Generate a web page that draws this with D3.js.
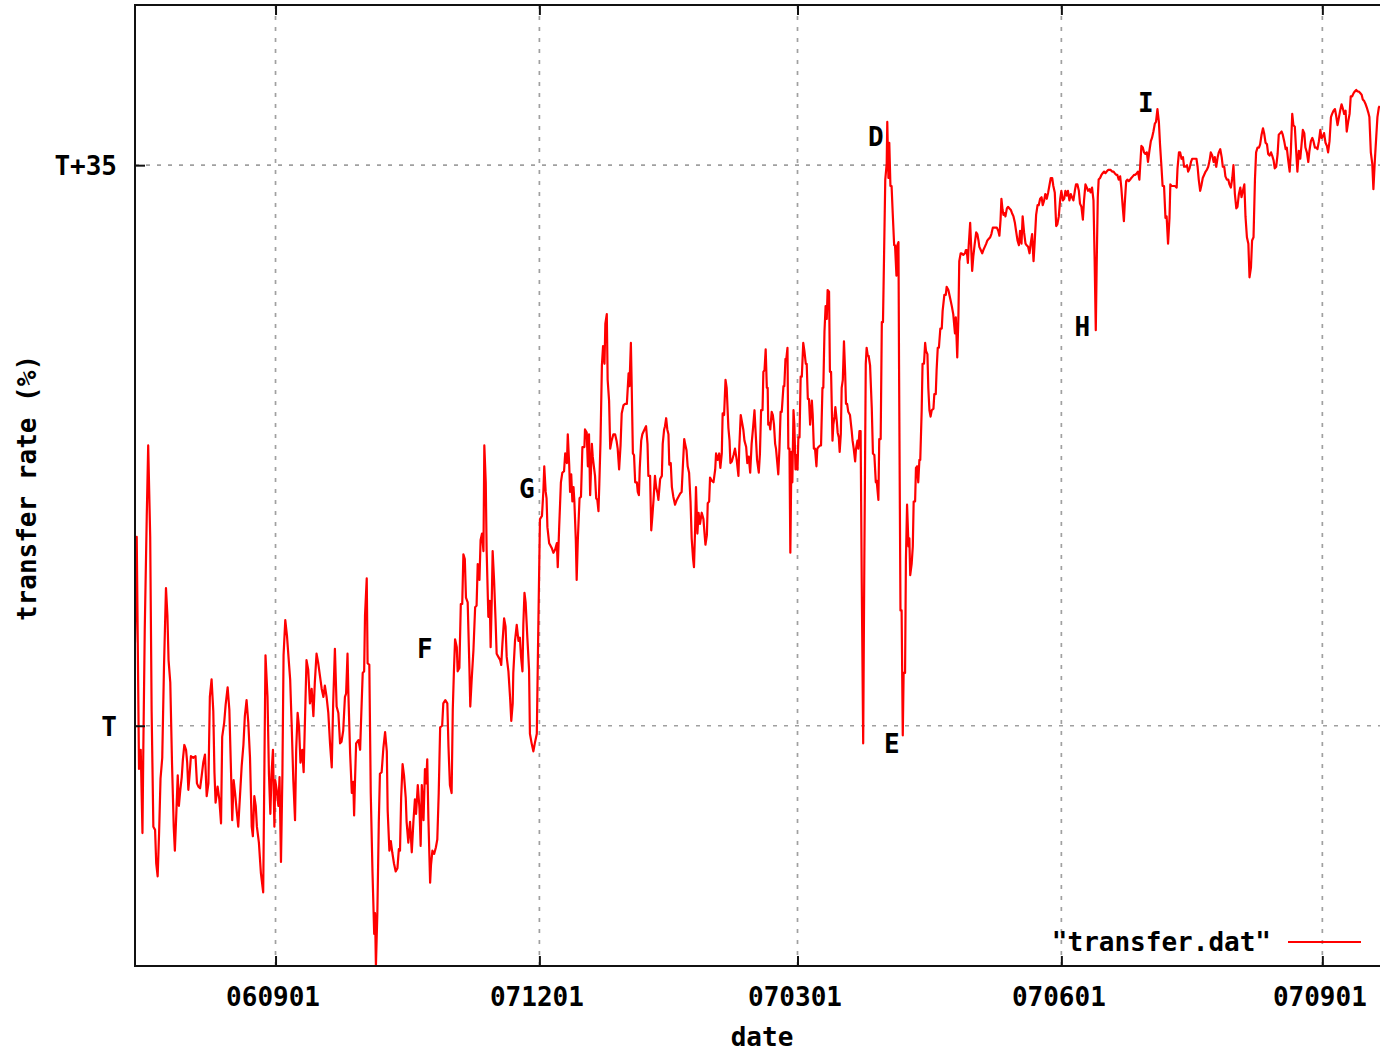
<!DOCTYPE html>
<html><head><meta charset="utf-8">
<script src="https://cdn.jsdelivr.net/npm/d3@7"></script>
<style>
html,body{margin:0;padding:0;background:#fff;}
svg{display:block;background:#fff;}
text{font-family:"DejaVu Sans Mono","Liberation Mono",monospace;font-weight:bold;font-size:26px;fill:#000;}
</style></head><body>
<svg id="chart" width="1380" height="1052"></svg>
<script>
// x: record number in transfer.dat, y: transfer rate relative to T (in %)
const sampleNo = [
0,0.6,1.4,2.0,2.6,2.9,3.4,4.1,4.6,5.3,5.8,6.4,7.0,7.4,7.9,8.4,8.9,9.5,10.1,10.8,
11.3,11.7,12.3,12.9,13.5,13.9,14.4,14.9,15.3,15.8,16.3,16.7,17.2,17.8,18.2,18.6,19.1,19.5,20.3,21.1,
21.6,22.1,22.7,23.2,23.8,24.4,25.0,25.6,26.1,26.7,27.3,27.7,28.1,28.8,29.4,30.0,30.4,31.1,31.6,32.3,
32.9,33.5,33.9,34.4,34.9,35.4,36.0,36.6,37.2,37.8,38.3,38.9,39.5,40.1,40.7,41.1,41.6,42.1,42.5,43.2,
43.9,44.7,45.1,45.5,46.2,46.7,47.2,47.6,48.1,48.6,48.9,49.4,50.0,50.4,50.9,51.4,51.8,52.4,53.0,53.6,
54.1,54.6,55.2,55.8,56.2,56.7,57.2,57.7,58.3,58.8,59.3,59.8,60.4,61.0,61.6,62.2,62.7,63.3,63.9,64.5,
65.1,65.7,66.2,66.8,67.4,68.0,68.6,69.1,69.7,70.3,70.9,71.5,72.0,72.6,73.2,
73.6,74.1,74.4,75.0,75.6,76.1,76.4,76.7,77.1,77.9,78.5,78.8,79.4,79.9,80.2,80.8,81.1,81.7,82.2,82.8,
83.4,83.7,84.0,84.5,85.0,85.4,86.0,86.6,87.2,87.8,88.1,88.7,89.2,89.7,90.3,90.9,91.5,92.0,92.4,92.8,
93.3,93.8,94.4,94.7,95.3,95.9,96.5,97.1,97.6,98.0,98.6,99.2,99.6,100.0,100.6,101.1,101.5,101.9,102.3,102.9,
103.2,103.7,104.3,104.9,105.4,105.9,106.4,107.1,107.5,108.2,108.9,109.3,109.8,110.4,110.8,111.2,111.6,112.2,112.5,113.1,
113.6,114.1,114.5,115.0,115.4,116.0,116.6,116.9,117.4,118.0,118.6,119.1,119.5,120.1,120.5,121.0,121.5,121.8,122.3,122.6,
123.2,123.7,124.0,124.4,124.7,125.2,125.7,126.1,126.7,127.3,127.7,128.1,128.7,129.2,129.6,130.2,130.8,131.2,131.7,131.9,
132.5,133.1,133.7,134.2,134.6,135.1,135.4,135.8,136.2,136.8,137.4,137.7,138.3,138.9,139.4,140.1,140.6,141.2,141.9,142.4,
142.7,143.2,143.5,143.8,144.4,
144.7,145.3,145.9,146.5,147.1,147.4,147.9,148.5,149.0,149.6,150.0,150.6,150.9,151.4,151.7,152.1,152.5,152.9,153.2,153.7,
154.0,154.4,155.0,155.5,156.0,156.7,156.9,157.5,157.9,158.3,158.7,159.3,159.6,160.0,160.4,160.8,161.2,161.6,161.9,162.3,
162.8,163.2,163.7,164.0,164.5,164.8,165.3,165.7,166.2,166.8,167.4,167.9,168.3,168.8,169.3,169.7,170.3,170.9,171.5,172.1,
172.4,172.9,173.2,173.6,174.0,174.4,175.0,175.3,175.7,176.0,176.5,176.9,177.4,177.9,178.2,178.7,179.0,179.6,180.0,180.4,
180.8,181.3,181.7,182.2,182.5,183.1,183.7,184.0,184.5,184.8,185.2,185.6,186.0,186.3,186.8,187.2,187.7,188.3,188.9,189.5,
190.1,190.6,191.0,191.5,191.8,192.3,192.7,193.2,193.7,194.1,194.6,194.9,195.3,195.6,196.1,196.5,197.0,197.6,198.2,198.5,
198.9,199.4,199.7,200.2,200.5,201.1,201.7,202.3,202.6,203.2,203.7,204.1,204.6,204.9,205.4,205.9,206.3,206.9,207.3,207.6,
208.1,208.7,209.2,209.8,210.4,210.7,211.2,211.6,212.1,212.5,213.1,213.5,214.0,214.5,215.0,215.5,216.0,216.4,216.9,217.5,
217.9,218.3,218.8,219.1,219.5,219.9,220.3,220.6,220.8,221.2,221.5,222.0,222.4,222.8,223.2,223.5,223.9,224.3,224.7,225.1,
225.5,226.1,226.4,226.8,227.1,227.5,227.8,228.2,228.5,228.9,229.2,229.6,229.9,230.3,230.6,231.0,231.3,231.7,232.1,232.5,
233.0,233.4,233.9,234.2,234.6,235.0,235.4,236.0,236.3,236.7,237.1,237.6,237.9,238.3,238.9,239.2,239.7,240.0,240.4,240.8,
241.2,241.5,242.0,242.3,242.7,243.2,243.5,243.9,244.2,244.7,245.0,245.4,245.7,246.1,246.4,246.8,247.2,247.6,247.9,248.3,
248.7,249.3,249.9,250.2,250.6,251.1,251.4,251.9,252.2,252.6,253.0,253.4,253.9,254.3,254.8,255.1,255.5,255.8,256.3,256.9,
257.3,257.8,258.3,258.6,259.2,259.5,260.0,260.4,260.8,261.2,261.6,262.1,262.3,262.7,263.0,263.4,263.8,264.2,264.7,265.0,
265.5,265.8,266.2,266.4,266.9,267.3,267.7,268.0,268.5,268.8,269.2,269.7,270.0,270.3,270.8,271.2,271.5,272.0,272.3,272.7,
273.1,273.5,273.8,274.3,274.6,275.1,275.5,275.8,276.3,276.6,277.0,277.4,277.8,278.4,278.7,279.2,279.5,279.9,280.3,280.8,
281.3,281.6,282.2,282.7,283.0,283.6,284.2,284.8,285.3,285.9,286.2,286.7,287.1,287.4,287.9,288.2,288.8,289.4,
289.7,290.0,290.4,290.7,291.2,291.9,292.3,292.8,293.3,293.7,294.1,294.4,294.9,295.4,295.8,296.3,296.8,297.2,297.7,298.2,
298.6,299.1,299.6,300.0,300.5,301.0,301.4,301.8,302.1,302.5,302.8,303.2,303.5,304.0,304.4,304.9,305.4,305.8,306.3,306.8,
307.2,307.7,308.2,308.6,309.1,309.5,310.0,310.5,310.9,311.4,311.9,312.3,312.8,313.3,313.7,314.2,314.7,315.1,315.6,316.1,
316.5,317.0,317.4,317.9,318.4,318.8,319.3,319.8,320.2,320.7,321.2,321.6,322.1,322.6,323.0,323.5,324.0,324.4,324.9,325.3,
325.8,326.3,326.7,327.2,327.7,328.1,328.6,329.1,329.5,330.0,330.5,330.9,331.4,331.9,332.3,332.8,333.2,333.7,334.2,334.6,
335.0,335.3,335.7,336.0,336.5,337.0,337.4,337.9,338.4,338.8,339.3,339.8,340.2,340.7,341.2,341.6,342.1,342.5,343.0,343.5,
343.9,344.4,344.8,345.1,345.6,346.0,346.5,347.0,347.4,347.9,348.4,348.8,349.3,349.7,350.2,350.6,350.9,351.4,351.8,352.3,
352.8,353.2,353.7,354.2,354.6,355.1,355.6,356.0,356.5,357.0,357.4,357.9,358.3,358.8,359.3,359.7,360.2,360.7,
361.0,361.4,362.0,362.6,363.2,363.5,364.0,364.4,364.9,365.4,365.8,366.3,366.8,367.2,367.7,368.2,368.6,369.1,369.6,370.1,
370.5,370.9,371.4,371.9,372.3,372.8,373.3,373.7,374.2,374.7,375.1,375.6,376.1,376.5,377.0,377.5,377.9,378.4,378.9,379.3,
379.8,380.2,380.7,381.2,381.6,382.1,382.6,383.0,383.5,384.0,384.4,384.9,385.4,385.8,386.3,386.8,387.2,387.7,388.2,388.6,
389.1,389.5,390.0,390.5,390.9,391.4,391.9,392.3,392.8,393.3,393.7,394.2,394.7,395.1,395.6,396.1,396.5,397.0,397.4,397.9,
398.4,398.8,399.3,399.8,400.2,400.7,401.2,401.6,402.1,402.6,403.0,403.5,403.9,404.4,404.9,405.3,405.8,406.3,406.7,407.2,
407.7,408.1,408.6,409.1,409.5,410.0,410.5,410.9,411.4,411.9,412.3,412.8,413.3,413.7,414.2,414.6,415.1,415.6,416.0,416.5,
417.0,417.4,417.9,418.4,418.8,419.3,419.8,420.2,420.7,421.2,421.6,422.1,422.5,423.0,423.5,423.9,424.4,424.9,425.3,425.8,
426.3,426.7,427.2,427.7,428.1,428.6,429.1,429.5,430.0,430.4,430.9,431.4,431.8,432.3,432.8,433.2,433.7,434.0
];
const rate = [
5.2,11.8,-2.7,-1.5,-6.7,-1.5,6.0,13.1,17.5,11.8,0.9,-6.3,-6.5,-8.6,-9.4,-6.7,-3.3,-2.0,3.6,8.6,
6.9,4.1,2.7,-2.3,-6.3,-7.8,-5.5,-3.1,-5.0,-4.0,-3.2,-2.1,-1.2,-1.5,-2.3,-4.0,-2.9,-1.9,-2.0,-1.9,
-3.6,-3.8,-3.9,-3.2,-2.3,-1.8,-4.4,-3.6,1.8,2.9,0.9,-2.9,-4.8,-3.8,-4.6,-6.1,-0.7,0.2,1.3,2.4,
1.0,-3.0,-5.9,-3.4,-4.2,-5.2,-6.3,-4.4,-2.5,-1.2,0.6,1.6,0.2,-2.0,-6.3,-6.9,-4.4,-5.0,-6.3,-7.3,
-9.2,-10.4,-2.9,4.4,1.8,-3.0,-5.5,-3.0,-1.5,-6.3,-3.4,-4.0,-5.0,-3.2,-8.5,-3.0,4.4,6.6,5.6,4.1,
2.9,0.2,-3.4,-5.9,-1.5,0.8,-0.1,-2.3,-1.5,-2.9,0.6,4.1,3.5,1.4,2.3,0.6,2.7,4.5,3.9,3.1,
2.3,1.8,2.5,1.8,0.8,-1.1,-2.6,1.4,4.8,1.2,0.8,-1.1,-1.0,-0.3,1.8,
2.0,4.5,2.0,-1.7,-4.2,-3.5,-5.6,-3.5,-1.1,-0.9,-1.5,0.2,3.3,3.4,6.9,9.2,3.9,3.8,-4.2,-9.1,
-13.0,-11.7,-15.0,-11.7,-6.1,-3.0,-2.9,-1.4,-0.4,-1.6,-5.3,-7.8,-7.2,-7.9,-8.6,-9.1,-8.9,-7.7,-7.8,-4.5,
-2.4,-3.1,-4.5,-6.0,-7.3,-6.0,-7.9,-5.9,-4.6,-5.5,-3.7,-5.2,-7.5,-3.7,-5.9,-2.7,-3.6,-2.1,-5.8,-9.8,
-8.7,-7.8,-8.0,-7.6,-7.1,-4.2,-0.1,0.0,1.4,1.6,1.4,-1.3,-3.7,-4.2,1.0,3.4,5.4,4.9,3.4,3.6,
7.6,7.6,10.7,10.4,8.0,7.7,3.6,1.2,2.9,4.7,7.4,7.5,10.1,9.1,11.6,12.0,10.9,17.5,15.2,11.0,
6.8,7.8,4.9,7.9,10.9,9.1,6.7,4.5,4.3,4.1,3.8,5.1,6.7,6.2,4.3,3.4,1.7,0.3,1.4,3.3,
5.3,6.3,5.3,5.5,4.3,3.4,6.3,8.3,7.7,5.5,3.5,-0.5,-1.1,-1.6,-1.1,-0.5,5.9,12.9,13.1,14.7,
16.2,14.6,14.2,12.4,11.4,
11.3,11.1,10.8,11.0,11.4,9.9,12.4,15.2,15.8,15.9,17.0,16.4,18.2,16.3,14.6,15.7,14.0,14.9,14.0,11.6,
9.1,11.6,14.2,14.3,17.4,17.4,18.5,18.3,16.2,18.2,14.4,17.6,16.8,16.2,15.6,14.2,14.1,13.4,15.1,17.7,
22.5,23.7,22.6,25.1,25.7,21.6,20.3,17.3,17.8,18.2,18.2,17.8,17.3,16.0,17.5,19.5,20.0,20.1,20.1,22.0,
21.2,23.9,21.1,17.0,16.9,15.2,15.2,14.6,14.4,16.1,17.8,18.2,18.4,18.6,18.7,17.6,15.6,15.6,12.2,13.1,
14.1,15.6,14.9,14.5,14.1,15.4,15.6,17.6,18.5,18.7,19.2,18.5,18.2,16.3,16.4,14.9,14.3,13.8,14.1,14.3,
14.5,14.6,16.1,17.9,17.6,17.2,16.2,15.8,14.0,11.7,10.4,9.9,12.3,14.9,12.0,13.3,12.6,13.3,12.9,12.2,
11.3,11.9,13.9,14.0,15.5,15.3,15.2,16.0,17.0,16.6,17.0,16.1,17.0,19.5,19.4,21.6,21.1,18.6,17.8,16.4,
16.5,16.9,17.3,16.6,15.6,17.4,19.4,19.0,18.5,17.8,17.4,16.4,16.8,15.8,17.6,18.6,19.7,18.3,16.6,15.8,
17.0,19.7,19.7,22.1,22.2,23.5,21.1,21.1,18.8,18.9,18.5,19.6,19.4,18.8,17.6,17.3,16.5,15.7,17.3,19.6,
19.6,21.2,21.2,22.9,22.9,23.6,17.3,17.3,10.8,17.1,15.2,19.7,18.8,16.0,16.9,16.0,18.0,18.0,21.8,21.8,
23.9,23.4,22.6,22.6,20.4,20.4,18.8,20.3,19.4,17.3,17.3,16.2,17.3,17.4,17.5,17.5,21.1,21.1,24.6,26.2,
25.4,27.2,27.1,22.1,22.1,17.8,18.8,19.3,19.9,19.0,18.3,18.0,17.1,18.2,21.1,21.6,24.0,22.1,20.1,20.1,
19.6,19.4,18.4,17.8,17.3,16.5,17.3,17.8,17.3,18.4,18.4,8.9,-1.1,10.3,22.6,23.6,23.1,23.1,22.5,19.8,
17.0,16.9,15.2,15.3,14.1,17.9,17.9,25.2,25.2,29.6,34.1,35.1,37.7,34.2,36.4,33.7,33.7,32.0,30.0,30.0,
28.1,30.0,30.2,22.6,7.2,7.2,-0.6,3.3,3.3,10.4,13.8,11.2,11.7,9.4,10.1,11.2,14.0,14.0,16.1,16.2,
15.2,16.6,16.6,19.7,22.6,22.6,23.9,23.4,23.2,21.1,19.7,19.3,19.7,19.8,20.7,20.7,22.2,23.6,23.6,24.8,
24.8,25.9,26.9,26.9,27.4,27.2,26.7,26.2,25.7,24.5,25.5,23.0,25.5,29.0,29.5,29.5,29.4,29.5,
29.7,29.7,28.9,30.0,31.4,28.4,29.3,30.1,30.8,30.7,30.3,29.9,29.7,29.5,29.7,29.9,30.1,30.3,30.4,30.5,
30.7,31.1,31.1,31.1,31.1,30.9,30.6,31.6,32.9,32.2,31.9,32.0,31.8,32.3,32.4,32.3,32.2,32.0,31.8,31.4,
30.9,30.3,30.0,30.9,30.1,31.8,30.8,30.1,30.0,29.9,29.5,30.1,30.7,29.0,30.2,31.9,32.5,32.5,32.9,33.0,
32.5,32.8,33.2,32.9,33.3,33.7,34.2,34.2,33.7,33.3,31.2,31.3,31.8,32.9,33.4,32.8,32.9,33.4,33.1,33.4,
32.8,33.2,33.0,32.8,33.4,33.8,33.8,33.4,32.6,32.4,31.6,32.8,33.8,33.6,33.4,33.5,33.3,33.6,32.8,29.1,
24.7,28.6,33.0,34.1,34.2,34.4,34.5,34.6,34.5,34.6,34.7,34.7,34.7,34.6,34.6,34.5,34.4,34.4,34.1,34.3,
33.6,32.4,31.5,32.6,34.0,34.1,34.0,34.1,34.2,34.3,34.4,34.4,34.5,34.6,34.1,35.3,36.2,36.1,35.8,35.7,
35.8,35.2,35.9,36.5,36.7,37.1,37.6,37.7,38.5,37.7,36.3,34.9,33.7,33.7,31.7,31.8,30.1,31.7,
33.8,33.7,33.7,33.7,33.6,34.8,35.8,35.8,35.4,35.5,34.9,34.9,35.0,34.6,34.8,35.2,35.4,35.4,35.4,35.4,
34.9,34.1,33.4,33.8,34.2,34.4,34.6,34.7,34.9,35.3,35.8,35.6,35.2,35.5,34.9,35.5,35.8,36.0,35.5,34.9,
34.9,34.3,34.1,34.1,33.8,33.6,34.2,35.0,33.2,32.3,32.4,33.2,33.6,33.0,33.4,33.8,31.8,30.5,30.1,28.0,
28.6,30.3,30.5,34.1,35.8,36.1,36.1,36.3,36.9,37.3,37.0,36.4,36.3,35.7,35.6,35.8,35.6,35.3,34.8,34.9,
35.7,36.9,37.0,37.1,36.9,36.5,36.0,36.1,35.3,34.6,35.8,38.2,37.5,37.4,35.8,34.6,35.9,35.4,36.2,37.2,
37.0,36.1,35.8,35.2,35.9,36.5,36.7,36.5,36.1,36.1,36.0,36.5,37.2,36.7,36.8,37.0,36.4,36.2,35.8,36.5,
38.0,38.2,38.4,38.5,38.1,37.5,38.0,38.4,38.8,38.5,38.2,38.4,37.1,37.7,38.2,39.3,39.3,39.5,39.6,39.7,
39.6,39.6,39.5,39.4,39.1,39.0,38.8,38.6,38.3,38.0,35.8,35.1,33.5,35.3,36.8,38.0,38.6,38.7
];

const xDomain = [0, 434.1];
const yDomain = [-15, 45];
const xTickSamples = [49, 141, 231, 323, 414];
const xTickLabels = ["060901", "071201", "070301", "070601", "070901"];
const yTickValues = [0, 35];
const yTickLabels = ["T", "T+35"];
const noteNames = ["D", "E", "F", "G", "H", "I"];
const noteSample = [255.6, 261.2, 98.3, 133.9, 327.6, 349.7];
const noteRate = [36.8, -1.1, 4.8, 14.8, 24.9, 38.9];
const seriesName = "\"transfer.dat\"";
const xTitle = "date";
const yTitle = "transfer rate (%)";

const plotL = 135, plotT = 5, plotR = 1380, plotB = 966;
const x = d3.scaleLinear().domain(xDomain).range([plotL, plotR]);
const y = d3.scaleLinear().domain(yDomain).range([plotB, plotT]);
const svg = d3.select("#chart");

svg.append("defs").append("clipPath").attr("id", "clip")
  .append("rect").attr("x", plotL).attr("y", plotT).attr("width", plotR - plotL).attr("height", plotB - plotT);

// grid
const grid = svg.append("g").attr("stroke", "#a0a0a0").attr("stroke-width", 1.7).attr("stroke-dasharray", "4,7");
grid.selectAll("line.gx").data(xTickSamples).join("line").attr("class", "gx")
  .attr("x1", d => x(d)).attr("x2", d => x(d)).attr("y1", plotB).attr("y2", plotT);
grid.selectAll("line.gy").data(yTickValues).join("line").attr("class", "gy")
  .attr("y1", d => y(d)).attr("y2", d => y(d)).attr("x1", plotL).attr("x2", plotR);

// data line
const pts = sampleNo.map((s, i) => [s, rate[i]]);
const line = d3.line().x(d => x(d[0])).y(d => y(d[1]));
svg.append("path").datum(pts).attr("clip-path", "url(#clip)")
  .attr("fill", "none").attr("stroke", "#ff0000").attr("stroke-width", 2.2)
  .attr("stroke-linejoin", "round").attr("d", line);

// axes
const gx = svg.append("g").attr("transform", `translate(0,${plotB})`)
  .call(d3.axisBottom(x).tickValues(xTickSamples).tickFormat((d, i) => xTickLabels[i]).tickSize(-10).tickPadding(0));
gx.select(".domain").remove();
gx.selectAll(".tick line").attr("stroke", "#111").attr("stroke-width", 2);
gx.selectAll(".tick text").attr("y", 31).attr("dy", "0.35em").attr("x", -3);

const gt = svg.append("g").attr("transform", `translate(0,${plotT})`)
  .call(d3.axisTop(x).tickValues(xTickSamples).tickFormat("").tickSize(-10));
gt.select(".domain").remove();
gt.selectAll(".tick line").attr("stroke", "#111").attr("stroke-width", 2);

const gy = svg.append("g").attr("transform", `translate(${plotL},0)`)
  .call(d3.axisLeft(y).tickValues(yTickValues).tickFormat((d, i) => yTickLabels[i]).tickSize(-10).tickPadding(18));
gy.select(".domain").remove();
gy.selectAll(".tick line").attr("stroke", "#111").attr("stroke-width", 2);
gy.selectAll(".tick text").attr("dy", "0.36em");

// frame (left, top, bottom)
svg.append("path").attr("fill", "none").attr("stroke", "#111").attr("stroke-width", 2)
  .attr("d", `M${plotR},${plotT}H${plotL}V${plotB}H${plotR}`);

// annotations
svg.append("g").selectAll("text").data(noteNames).join("text")
  .attr("x", (d, i) => x(noteSample[i])).attr("y", (d, i) => y(noteRate[i]))
  .attr("dy", "0.36em").attr("text-anchor", "start").text(d => d);

// legend
svg.append("text").attr("x", 1271).attr("y", 942).attr("dy", "0.36em")
  .attr("text-anchor", "end").text(seriesName);
svg.append("line").attr("x1", 1288).attr("x2", 1361).attr("y1", 942).attr("y2", 942)
  .attr("stroke", "#ff0000").attr("stroke-width", 2);

// titles
svg.append("text").attr("x", 762).attr("y", 1037).attr("dy", "0.36em")
  .attr("text-anchor", "middle").text(xTitle);
svg.append("text").attr("transform", "translate(27,488) rotate(-90)").attr("dy", "0.36em")
  .attr("text-anchor", "middle").text(yTitle);
</script>
</body></html>
